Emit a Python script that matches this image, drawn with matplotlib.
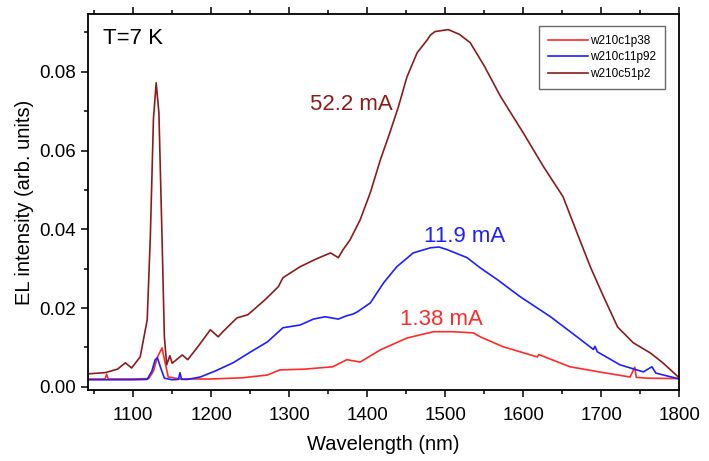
import matplotlib
matplotlib.use("Agg")
import matplotlib.pyplot as plt
from matplotlib.ticker import MultipleLocator, FormatStrFormatter

plt.rcParams['font.family'] = ['Liberation Sans', 'DejaVu Sans']

# --- data ---
wl_52 = [1042, 1064, 1080, 1090, 1098, 1109, 1118, 1122, 1126, 1129.5, 1133, 1137, 1140, 1143,
         1147, 1150, 1163, 1170, 1183, 1199, 1209, 1215, 1233, 1247, 1269, 1286, 1292, 1314,
         1335, 1353, 1363, 1369, 1378, 1391, 1404, 1417, 1429, 1440, 1451, 1464, 1477, 1481,
         1487, 1504, 1518, 1532, 1550, 1571, 1600, 1626, 1651, 1669, 1686, 1703, 1721, 1741,
         1763, 1779, 1800]
I_52 = [0.0033, 0.0036, 0.0045, 0.0061, 0.0048, 0.0076, 0.0170, 0.0380, 0.0680, 0.0772, 0.0696,
        0.0380, 0.0127, 0.0056, 0.0079, 0.0060, 0.0081, 0.0069, 0.0102, 0.0145, 0.0127, 0.0140,
        0.0175, 0.0183, 0.0221, 0.0254, 0.0277, 0.0305, 0.0325, 0.0340, 0.0328, 0.0348, 0.0373,
        0.0424, 0.0493, 0.0577, 0.0645, 0.0711, 0.0787, 0.0848, 0.0881, 0.0893, 0.0902, 0.0907,
        0.0895, 0.0874, 0.0815, 0.0737, 0.0645, 0.0559, 0.0483, 0.0391, 0.0305, 0.0229, 0.0152,
        0.0112, 0.0086, 0.0061, 0.0023]

wl_119 = [1042, 1100, 1118, 1124, 1128, 1131, 1135, 1140, 1150, 1158, 1160, 1162, 1170, 1186,
          1205, 1228, 1250, 1272, 1292, 1314, 1331, 1346, 1363, 1373, 1382, 1387, 1404, 1421,
          1438, 1459, 1481, 1492, 1503, 1528, 1545, 1567, 1596, 1635, 1669, 1690, 1692, 1695,
          1724, 1754, 1765, 1770, 1800]
I_119 = [0.0018, 0.0018, 0.0019, 0.0040, 0.0068, 0.0074, 0.0050, 0.0022, 0.0018, 0.0019, 0.0036,
         0.0019, 0.0019, 0.0025, 0.0040, 0.0061, 0.0088, 0.0114, 0.0150, 0.0157, 0.0172, 0.0178,
         0.0172, 0.0180, 0.0185, 0.0190, 0.0213, 0.0264, 0.0305, 0.0340, 0.0353, 0.0355, 0.0348,
         0.0328, 0.0302, 0.0272, 0.0229, 0.0178, 0.0127, 0.0095, 0.0103, 0.0089, 0.0056, 0.0038,
         0.0051, 0.0035, 0.0020]

wl_138 = [1042, 1064, 1066, 1068, 1100, 1120, 1126, 1131, 1137, 1140, 1145, 1160, 1200, 1240,
          1272, 1288, 1320, 1356, 1374, 1391, 1417, 1451, 1485, 1510, 1536, 1545, 1574, 1618,
          1620, 1660, 1703, 1737, 1743, 1745, 1760, 1800]
I_138 = [0.0020, 0.0020, 0.0032, 0.0020, 0.0020, 0.0021, 0.0040, 0.0075, 0.0099, 0.0070, 0.0025,
         0.0020, 0.0020, 0.0023, 0.0030, 0.0043, 0.0045, 0.0051, 0.0069, 0.0063, 0.0094, 0.0124,
         0.0140, 0.0140, 0.0137, 0.0127, 0.0102, 0.0076, 0.0082, 0.0051, 0.0036, 0.0025, 0.0050,
         0.0024, 0.0022, 0.0021]

labels = ["w210c1p38", "w210c11p92", "w210c51p2"]
currents = ["1.38 mA", "11.9 mA", "52.2 mA"]
colors = ["#ff2a2a", "#1f1fff", "#8b1c1c"]

fig = plt.figure(figsize=(7.09, 4.61), dpi=100)
ax = fig.add_axes([0.124, 0.154, 0.834, 0.816])

ax.plot(wl_138, I_138, color=colors[0], lw=1.2, label=labels[0])
ax.plot(wl_119, I_119, color=colors[1], lw=1.2, label=labels[1])
ax.plot(wl_52, I_52, color=colors[2], lw=1.2, label=labels[2])

ax.set_xlim(1042, 1800)
ax.set_ylim(-0.0008, 0.0947)
ax.xaxis.set_major_locator(MultipleLocator(100))
ax.xaxis.set_minor_locator(MultipleLocator(50))
ax.yaxis.set_major_locator(MultipleLocator(0.02))
ax.yaxis.set_minor_locator(MultipleLocator(0.01))
ax.yaxis.set_major_formatter(FormatStrFormatter('%.2f'))
ax.tick_params(which='both', direction='out', top=True, right=False, labelsize=13.5)
ax.tick_params(which='major', length=5, width=1.1)
ax.tick_params(which='minor', length=3, width=1.1)
ax.tick_params(axis='x', which='major', pad=7)
for s in ax.spines.values():
    s.set_linewidth(1.3)

ax.set_xlabel("Wavelength (nm)", fontsize=14.5, labelpad=8)
ax.set_ylabel("EL intensity (arb. units)", fontsize=14.5)

ax.text(1061, 0.0871, "T=7 K", fontsize=16, va='baseline', ha='left')
ax.text(1380, 0.0704, currents[2], color=colors[2], fontsize=16, ha='center', va='baseline')
ax.text(1525, 0.0368, currents[1], color=colors[1], fontsize=16, ha='center', va='baseline')
ax.text(1495, 0.01575, currents[0], color=colors[0], fontsize=16, ha='center', va='baseline')

leg = ax.legend(loc='upper right', fontsize=8.5, frameon=True, fancybox=False,
                edgecolor='#444444', handlelength=3.4, borderpad=0.75,
                bbox_to_anchor=(0.976, 0.968), borderaxespad=0, handletextpad=0.15,
                labelspacing=0.4)
leg.get_frame().set_linewidth(1.0)

fig.savefig("out.png", dpi=100)
